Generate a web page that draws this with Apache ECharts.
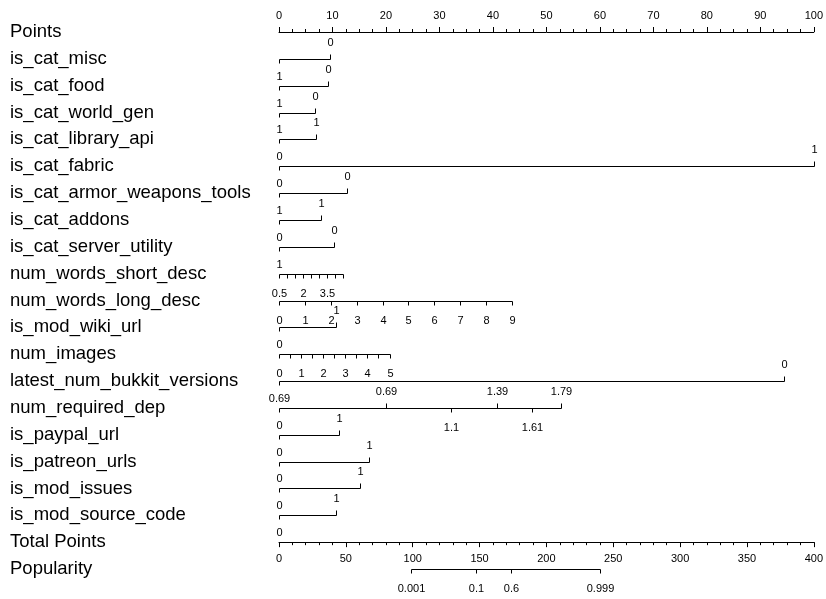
<!DOCTYPE html>
<html>
<head>
<meta charset="utf-8">
<script src="https://cdn.jsdelivr.net/npm/echarts@6/dist/echarts.min.js"></script>
<style>
  html, body { margin: 0; padding: 0; background: #fff; }
  #chart { width: 826px; height: 599px; }
</style>
</head>
<body>
<div id="chart"></div>
<script>
// row labels, top to bottom
var rowNames = ['Points', 'is_cat_misc', 'is_cat_food', 'is_cat_world_gen', 'is_cat_library_api',
  'is_cat_fabric', 'is_cat_armor_weapons_tools', 'is_cat_addons', 'is_cat_server_utility',
  'num_words_short_desc', 'num_words_long_desc', 'is_mod_wiki_url', 'num_images',
  'latest_num_bukkit_versions', 'num_required_dep', 'is_paypal_url', 'is_patreon_urls',
  'is_mod_issues', 'is_mod_source_code', 'Total Points', 'Popularity'];

// tick positions of each variable row, on the Points scale (rows 1..19)
var varTicks = [
  [0, 9.5],
  [0, 9.1],
  [0, 6.7],
  [0, 7.0],
  [0, 100],
  [0, 12.7],
  [0, 7.8],
  [0, 10.2],
  [0, 1.49, 2.98, 4.47, 5.96, 7.45, 8.94, 10.43, 11.92],
  [0, 4.84, 9.68, 14.53, 19.37, 24.21, 29.05, 33.89, 38.73, 43.58],
  [0, 10.6],
  [0, 2.07, 4.13, 6.2, 8.27, 10.34, 12.4, 14.47, 16.54, 18.6, 20.67],
  [0, 94.5],
  [0, 20.1, 32.2, 40.8, 47.3, 52.7],
  [0, 11.2],
  [0, 16.8],
  [0, 15.1],
  [0, 10.6],
  [0]
];
// 1 = tick drawn upward, 0 = downward
var varTickUp = [
  [0, 1], [0, 1], [0, 1], [0, 1], [0, 1], [0, 1], [0, 1], [0, 1],
  [0, 0, 0, 0, 0, 0, 0, 0, 0],
  [0, 0, 0, 0, 0, 0, 0, 0, 0, 0],
  [0, 1],
  [0, 0, 0, 0, 0, 0, 0, 0, 0, 0, 0],
  [0, 1],
  [0, 1, 0, 1, 0, 1],
  [0, 1], [0, 1], [0, 1], [0, 1],
  [0]
];
var varLabelsAbove = [
  ['', '0'], ['1', '0'], ['1', '0'], ['1', '1'], ['0', '1'], ['0', '0'], ['1', '1'], ['0', '0'],
  ['1'],
  [],
  ['', '1'],
  ['0'],
  ['', '0'],
  ['0.69', '0.69', '', '1.39', '', '1.79'],
  ['0', '1'], ['0', '1'], ['0', '1'], ['0', '1'],
  ['0']
];
var varLabelsBelow = [
  [], [], [], [], [], [], [], [],
  ['0.5', '', '', '2', '', '', '3.5', '', ''],
  ['0', '1', '2', '3', '4', '5', '6', '7', '8', '9'],
  [],
  ['0', '', '1', '', '2', '', '3', '', '4', '', '5'],
  [],
  ['', '', '1.1', '', '1.61', ''],
  [], [], [], [],
  []
];

// Popularity row, on the Total Points scale
var popTicks = [98.8, 147.2, 173.8, 240.4];
var popLabels = ['0.001', '0.1', '0.6', '0.999'];

var FONT = 'Liberation Sans, Arial, Helvetica, sans-serif';

function txt(x, y, s) {
  return {
    type: 'text',
    style: { x: x, y: y, text: s, align: 'center', verticalAlign: 'middle',
      fontSize: 11, fontFamily: FONT, fill: '#000' }
  };
}
function seg(x1, y1, x2, y2) {
  return { type: 'line', shape: { x1: x1, y1: y1, x2: x2, y2: y2 },
    style: { stroke: '#000', lineWidth: 1 } };
}

function drawRow(ticks, up, above, below, row, api) {
  var y = Math.round(api.coord([0, row])[1]) + 0.5;
  var kids = [];
  var xs = ticks.map(function (t) { return Math.round(api.coord([t, row])[0]) + 0.5; });
  if (xs.length > 1) kids.push(seg(xs[0], y, xs[xs.length - 1], y));
  xs.forEach(function (x, j) {
    var u = up[j];
    kids.push(seg(x, y, x, u ? y - 5 : y + 4));
    if (above[j]) kids.push(txt(x, u ? y - 17 : y - 10, above[j]));
    if (below[j]) kids.push(txt(x, y + 19, below[j]));
  });
  return { type: 'group', children: kids };
}

var chart = echarts.init(document.getElementById('chart'));

var rowData = [];
for (var i = 0; i < varTicks.length; i++) rowData.push([i + 1]);

var option = {
  animation: false,
  grid: { left: 279, right: 10, top: 32, bottom: 30 },
  xAxis: [{
    type: 'value', position: 'top', min: 0, max: 100, interval: 10,
    axisLine: { show: true, onZero: false, lineStyle: { color: '#000', width: 1 } },
    axisTick: { show: true, length: 5, lineStyle: { color: '#000' } },
    minorTick: { show: true, splitNumber: 4, length: 3, lineStyle: { color: '#000' } },
    axisLabel: { margin: 11, fontSize: 11, color: '#000', fontFamily: FONT },
    splitLine: { show: false }, minorSplitLine: { show: false }
  }, {
    type: 'value', position: 'bottom', offset: -26.85, min: 0, max: 400, interval: 50,
    axisLine: { show: true, onZero: false, lineStyle: { color: '#000', width: 1 } },
    axisTick: { show: true, length: 5, lineStyle: { color: '#000' } },
    minorTick: { show: true, splitNumber: 5, length: 3, lineStyle: { color: '#000' } },
    axisLabel: { margin: 11, fontSize: 11, color: '#000', fontFamily: FONT },
    splitLine: { show: false }, minorSplitLine: { show: false }
  }],
  yAxis: {
    type: 'category', data: rowNames, inverse: true, boundaryGap: false,
    axisLine: { show: false }, axisTick: { show: false }, splitLine: { show: false },
    axisLabel: { align: 'left', margin: 269, fontSize: 18.5, color: '#000', fontFamily: FONT,
      padding: [4, 0, 0, 0] }
  },
  series: [{
    type: 'custom', xAxisIndex: 0, yAxisIndex: 0, data: rowData, silent: true,
    renderItem: function (params, api) {
      var k = params.dataIndex;
      return drawRow(varTicks[k], varTickUp[k], varLabelsAbove[k], varLabelsBelow[k], api.value(0), api);
    }
  }, {
    type: 'custom', xAxisIndex: 1, yAxisIndex: 0, data: [[20]], silent: true,
    renderItem: function (params, api) {
      return drawRow(popTicks, [0, 0, 0, 0], [], popLabels, api.value(0), api);
    }
  }]
};
chart.setOption(option);
</script>
</body>
</html>
